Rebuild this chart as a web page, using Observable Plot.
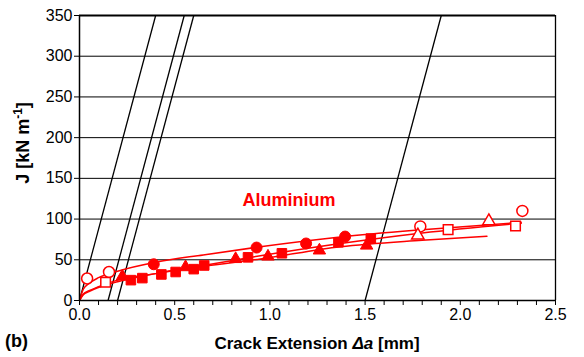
<!DOCTYPE html>
<html><head><meta charset="utf-8">
<script src="https://cdn.jsdelivr.net/npm/d3@7"></script>
<script src="https://cdn.jsdelivr.net/npm/@observablehq/plot@0.6"></script>
<style>body{margin:0;background:#fff}</style>
</head><body><div id="chart"></div>
<script>
// Tick values
const xTicks = [0.0, 0.5, 1.0, 1.5, 2.0, 2.5];
const xMinorTicks = [0.1, 0.2, 0.3, 0.4, 0.6, 0.7, 0.8, 0.9, 1.1, 1.2, 1.3, 1.4, 1.6, 1.7, 1.8, 1.9, 2.1, 2.2, 2.3, 2.4];
const yTicks = [0, 50, 100, 150, 200, 250, 300, 350];

// Blunting / offset lines (x at J=0 and x at J=350)
const bluntX0 = [0.0, 0.15, 0.2, 1.5];
const bluntX1 = [0.4, 0.55, 0.6, 1.9];
const bluntJ = [0, 350];

// Specimen 1: circles
const circleX = [0.04, 0.155, 0.39, 0.93, 1.19, 1.395, 1.79, 2.326];
const circleY = [27, 35, 44.5, 65, 70, 78.5, 91, 110];
const circleOpen = [true, true, false, false, false, false, true, true];

// Specimen 2: squares
const squareX = [0.137, 0.27, 0.33, 0.43, 0.505, 0.6, 0.655, 0.885, 1.063, 1.36, 1.53, 1.936, 2.29];
const squareY = [22.5, 25, 27.5, 32, 35, 38.5, 43, 53, 58, 71.5, 76, 87, 91.5];
const squareOpen = [true, false, false, false, false, false, false, false, false, false, false, true, true];

// Specimen 3: triangles
const triX = [0.225, 0.557, 0.82, 0.99, 1.26, 1.508, 1.777, 2.15];
const triY = [29.5, 41, 51, 54, 61.5, 67.5, 80, 97.5];
const triOpen = [false, false, false, false, false, false, true, true];

// Fitted curves
const fitCircleX = [0, 0.02, 0.05, 0.1, 0.2, 0.4, 0.65, 0.95, 1.37, 1.8, 2.32];
const fitCircleY = [0, 14, 21, 28, 36, 47, 56, 66, 78, 87, 96];
const fitSquareX = [0, 0.02, 0.05, 0.1, 0.2, 0.4, 0.65, 0.95, 1.37, 1.8, 2.32];
const fitSquareY = [0, 7, 11, 16, 23, 33, 43, 55, 70, 83, 95];
const fitTriX = [0, 0.02, 0.05, 0.1, 0.2, 0.4, 0.65, 0.95, 1.37, 1.8, 2.14];
const fitTriY = [0, 8, 12, 17, 25, 33, 42, 51, 66, 74, 79];

const label = {text: "Aluminium", x: 1.1, y: 123};

const RED = "#ff0000";
const FONT = "'Liberation Sans', Arial, sans-serif";
const pts = (xs, ys, open) => xs.map((x, i) => ({x, y: ys[i], open: open ? open[i] : false}));
const fit = (xs, ys) => xs.map((x, i) => ({x, y: ys[i]}));
const blunt = bluntX0.map((x0, i) => ({x1: x0, y1: bluntJ[0], x2: bluntX1[i], y2: bluntJ[1]}));

const circles = pts(circleX, circleY, circleOpen);
const squares = pts(squareX, squareY, squareOpen);
const tris = pts(triX, triY, triOpen);

function dots(data, symbol, r) {
  return [
    Plot.dot(data.filter(d => !d.open), {x: "x", y: "y", symbol, r, fill: RED, stroke: RED, strokeWidth: 1}),
    Plot.dot(data.filter(d => d.open), {x: "x", y: "y", symbol, r, fill: "white", stroke: RED, strokeWidth: 1.5})
  ];
}

const chart = Plot.plot({
  width: 584,
  height: 357,
  marginLeft: 79,
  marginRight: 29,
  marginTop: 15,
  marginBottom: 57,
  style: {fontFamily: FONT, fontSize: "16px", background: "white"},
  x: {domain: [0, 2.5], label: null},
  y: {domain: [0, 350], label: null},
  marks: [
    Plot.ruleY(yTicks.filter(d => d > 0 && d < 350), {stroke: "#000", strokeWidth: 1}),
    Plot.link(blunt, {x1: "x1", y1: "y1", x2: "x2", y2: "y2", stroke: "#000", strokeWidth: 1.3}),
    Plot.line(fit(fitCircleX, fitCircleY), {x: "x", y: "y", stroke: RED, strokeWidth: 1.5, curve: "monotone-x"}),
    Plot.line(fit(fitSquareX, fitSquareY), {x: "x", y: "y", stroke: RED, strokeWidth: 1.5, curve: "monotone-x"}),
    Plot.line(fit(fitTriX, fitTriY), {x: "x", y: "y", stroke: RED, strokeWidth: 1.5, curve: "monotone-x"}),
    ...dots(circles, "circle", 5.5),
    ...dots(squares, "square", 5.4),
    ...dots(tris, "triangle", 4.6),
    Plot.text([label], {x: "x", y: "y", text: "text", fill: RED, fontWeight: "bold", fontSize: 18}),
    Plot.ruleY([350], {stroke: "#000", strokeWidth: 2}),
    Plot.ruleX([2.5], {stroke: "#000", strokeWidth: 1.3}),
    Plot.ruleX([0], {stroke: "#000", strokeWidth: 1.5}),
    Plot.ruleY([0], {stroke: "#000", strokeWidth: 1.5}),
    Plot.axisX(xTicks, {tickFormat: d3.format(".1f"), tickSize: 5, tickPadding: 3, fontSize: 16, stroke: "#000", color: "#000"}),
    Plot.axisX(xMinorTicks, {tickFormat: () => "", tickSize: 5, stroke: "#000"}),
    Plot.axisY(yTicks, {tickSize: 5, tickPadding: 2, fontSize: 16, stroke: "#000", color: "#000"})
  ]
});

const svg = d3.select(chart);
// x-axis title
const xt = svg.append("text")
  .attr("x", 317).attr("y", 349)
  .attr("text-anchor", "middle")
  .attr("font-family", FONT)
  .attr("font-size", 17).attr("font-weight", "bold").attr("fill", "#000");
xt.append("tspan").text("Crack Extension ");
xt.append("tspan").attr("font-style", "italic").text("Δa");
xt.append("tspan").text(" [mm]");
// y-axis title
const yt = svg.append("text")
  .attr("transform", "translate(29,143) rotate(-90)")
  .attr("text-anchor", "middle")
  .attr("font-family", FONT)
  .attr("font-size", 18).attr("font-weight", "bold").attr("fill", "#000");
yt.append("tspan").text("J [kN m");
yt.append("tspan").attr("font-size", 12).attr("dy", -7).text("-1");
yt.append("tspan").attr("dy", 7).text("]");
// panel label
svg.append("text")
  .attr("x", 5).attr("y", 347)
  .attr("text-anchor", "start")
  .attr("font-family", FONT)
  .attr("font-size", 18).attr("font-weight", "bold").attr("fill", "#000")
  .text("(b)");

document.getElementById("chart").append(chart);
</script>
</body></html>
